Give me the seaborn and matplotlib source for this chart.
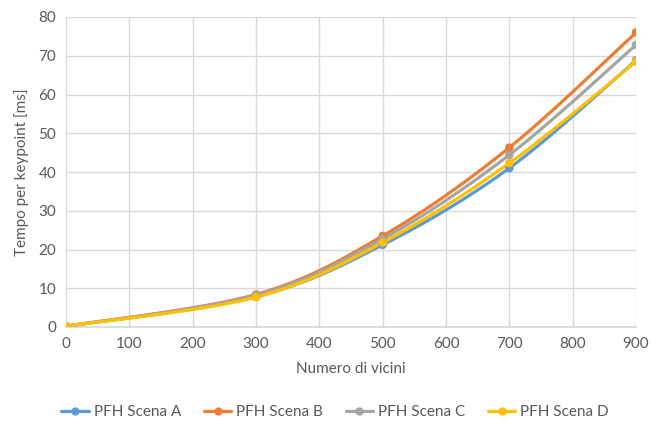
import numpy as np
import pandas as pd
import matplotlib
matplotlib.use("Agg")
import matplotlib.pyplot as plt
import seaborn as sns

# Neighbour counts and timing per keypoint (ms)
vicini = [0, 300, 500, 700, 900]
scena_a = [0.2, 7.8, 21.2, 41.0, 68.8]
scena_b = [0.2, 8.4, 23.5, 46.3, 76.0]
scena_c = [0.2, 8.2, 22.7, 44.4, 72.8]
scena_d = [0.2, 7.7, 21.8, 42.3, 68.5]

series = {
    "PFH Scena A": scena_a,
    "PFH Scena B": scena_b,
    "PFH Scena C": scena_c,
    "PFH Scena D": scena_d,
}
colors = ["#5B9BD5", "#ED7D31", "#A5A5A5", "#FFC000"]


def smooth(x, y, n=40):
    """Cardinal (Catmull-Rom style) Bezier smoothing through the points."""
    x = np.asarray(x, float)
    y = np.asarray(y, float)
    pts = np.column_stack([x, y])
    out = []
    for i in range(len(pts) - 1):
        p0 = pts[i - 1] if i > 0 else pts[i]
        p1 = pts[i]
        p2 = pts[i + 1]
        p3 = pts[i + 2] if i + 2 < len(pts) else pts[i + 1]
        c1 = p1 + (p2 - p0) / 6.0
        c2 = p2 - (p3 - p1) / 6.0
        t = np.linspace(0, 1, n)[:, None]
        seg = ((1 - t) ** 3) * p1 + 3 * ((1 - t) ** 2) * t * c1 + 3 * (1 - t) * t ** 2 * c2 + t ** 3 * p2
        out.append(seg if i == 0 else seg[1:])
    s = np.vstack(out)
    return s[:, 0], s[:, 1]


sns.set_theme(style="white")
plt.rcParams["font.family"] = ["Lato", "DejaVu Sans"]

fig = plt.figure(figsize=(6.51, 4.26), dpi=100)
ax = fig.add_axes([66 / 651, 1 - 327 / 426, (636 - 66) / 651, (327 - 17) / 426])

text_col = "#595959"
grid_col = "#D9D9D9"

curve_rows = []
point_rows = []
for name, vals in series.items():
    cx, cy = smooth(vicini, vals)
    curve_rows.append(pd.DataFrame({"x": cx, "y": cy, "serie": name}))
    point_rows.append(pd.DataFrame({"x": vicini, "y": vals, "serie": name}))
curves = pd.concat(curve_rows, ignore_index=True)
points = pd.concat(point_rows, ignore_index=True)

palette = dict(zip(series.keys(), colors))
sns.lineplot(data=curves, x="x", y="y", hue="serie", palette=palette, sort=False,
             estimator=None, units="serie", linewidth=2.3, ax=ax, legend=False, zorder=3)
sns.scatterplot(data=points, x="x", y="y", hue="serie", palette=palette, s=38,
                edgecolor="none", ax=ax, legend=False, zorder=4)

ax.set_xlim(0, 900)
ax.set_ylim(0, 80)
ax.set_xticks(range(0, 901, 100))
ax.set_yticks(range(0, 81, 10))
ax.grid(True, color=grid_col, linewidth=1)
ax.set_axisbelow(True)
for s in ax.spines.values():
    s.set_visible(False)
ax.spines["bottom"].set_visible(True)
ax.spines["bottom"].set_color(grid_col)
ax.tick_params(axis="both", length=0, labelsize=11, colors=text_col, pad=7)
ax.set_xlabel("Numero di vicini", fontsize=11, color=text_col, labelpad=8)
ax.set_ylabel("Tempo per keypoint [ms]", fontsize=11, color=text_col, labelpad=7)

handles = [plt.Line2D([0], [0], color=c, lw=2.3, marker="o", markersize=5)
           for c in colors]
fig.legend(handles, list(series.keys()), loc="center", bbox_to_anchor=(335 / 651, 1 - 412 / 426),
           ncol=4, frameon=False, fontsize=11, labelcolor=text_col,
           handlelength=1.8, columnspacing=1.5, handletextpad=0.3)

fig.savefig("out.png", dpi=100)
